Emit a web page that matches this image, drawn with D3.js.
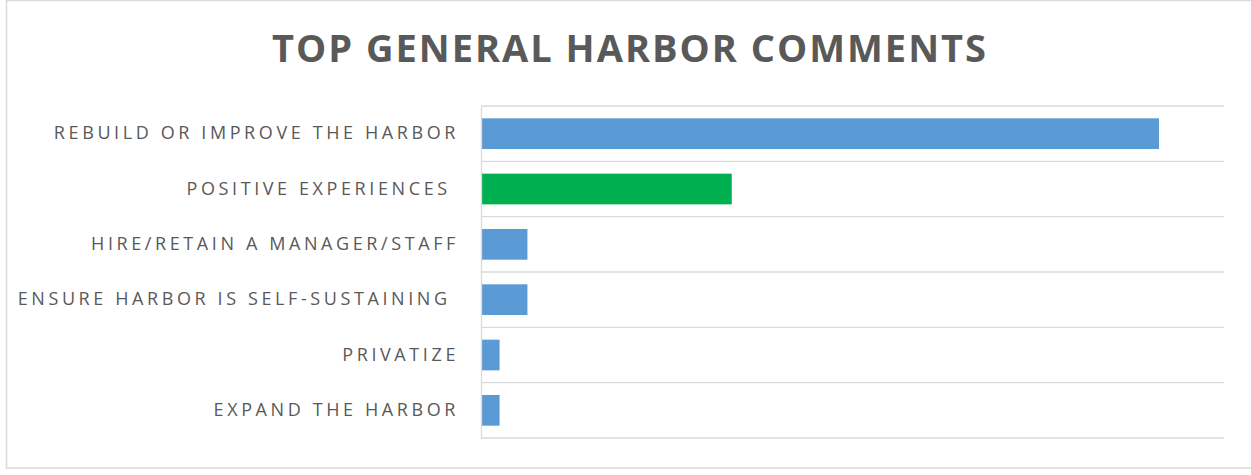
<!DOCTYPE html>
<html>
<head>
<meta charset="utf-8">
<script src="https://cdn.jsdelivr.net/npm/d3@7"></script>
<style>
  html, body { margin: 0; padding: 0; background: #fff; }
  svg { display: block; }
</style>
</head>
<body>
<svg id="chart"></svg>
<script>
const titleText = "TOP GENERAL HARBOR COMMENTS";
const categories = [
  "REBUILD OR IMPROVE THE HARBOR",
  "POSITIVE EXPERIENCES ",
  "HIRE/RETAIN A MANAGER/STAFF",
  "ENSURE HARBOR IS SELF-SUSTAINING ",
  "PRIVATIZE",
  "EXPAND THE HARBOR"
];
const values = [73, 27, 5, 5, 2, 2];
const highlighted = ["POSITIVE EXPERIENCES "];
const axisMax = 80;

const width = 1251;
const height = 475;
const margin = { top: 106, right: 27, bottom: 37, left: 481 };

const svg = d3.select("#chart")
  .attr("width", width)
  .attr("height", height);

// outer chart border
svg.append("rect")
  .attr("x", 6.5)
  .attr("y", 0.5)
  .attr("width", width)
  .attr("height", 467.5)
  .attr("fill", "none")
  .attr("stroke", "#d9d9d9")
  .attr("stroke-width", 1.5);

svg.append("text")
  .attr("x", 630)
  .attr("y", 62)
  .attr("text-anchor", "middle")
  .attr("fill", "#595959")
  .style("font-family", "'Open Sans', sans-serif")
  .style("font-weight", 700)
  .style("font-size", "38px")
  .style("letter-spacing", "2px")
  .text(titleText);

// Scales
const x = d3.scaleLinear()
  .domain([0, axisMax])
  .range([margin.left, width - margin.right]);

const y = d3.scaleBand()
  .domain(categories)
  .range([margin.top, height - margin.bottom])
  .paddingInner(0.445)
  .paddingOuter(0.2225);

// horizontal gridlines at band edges
const edges = d3.range(categories.length + 1).map(i => y.range()[0] + i * y.step());
svg.append("g")
  .selectAll("line")
  .data(edges)
  .join("line")
  .attr("x1", x(0))
  .attr("x2", x.range()[1])
  .attr("y1", d => d)
  .attr("y2", d => d)
  .attr("stroke", "#d9d9d9")
  .attr("stroke-width", 1.3);

// bars
svg.append("g")
  .selectAll("rect")
  .data(categories)
  .join("rect")
  .attr("x", x(0))
  .attr("y", d => y(d))
  .attr("width", (d, i) => x(values[i]) - x(0))
  .attr("height", y.bandwidth())
  .attr("fill", d => highlighted.includes(d) ? "#00b050" : "#5b9bd5");

// category axis
const yAxis = svg.append("g")
  .attr("transform", `translate(${x(0)},0)`)
  .call(d3.axisLeft(y).tickSize(0).tickPadding(22));

yAxis.select(".domain")
  .attr("stroke", "#d9d9d9")
  .attr("stroke-width", 1.3);

yAxis.selectAll("text")
  .attr("fill", "#595959")
  .style("font-family", "'Open Sans', sans-serif")
  .style("font-size", "18px")
  .style("letter-spacing", "3.6px")
  .style("white-space", "pre");
</script>
</body>
</html>
